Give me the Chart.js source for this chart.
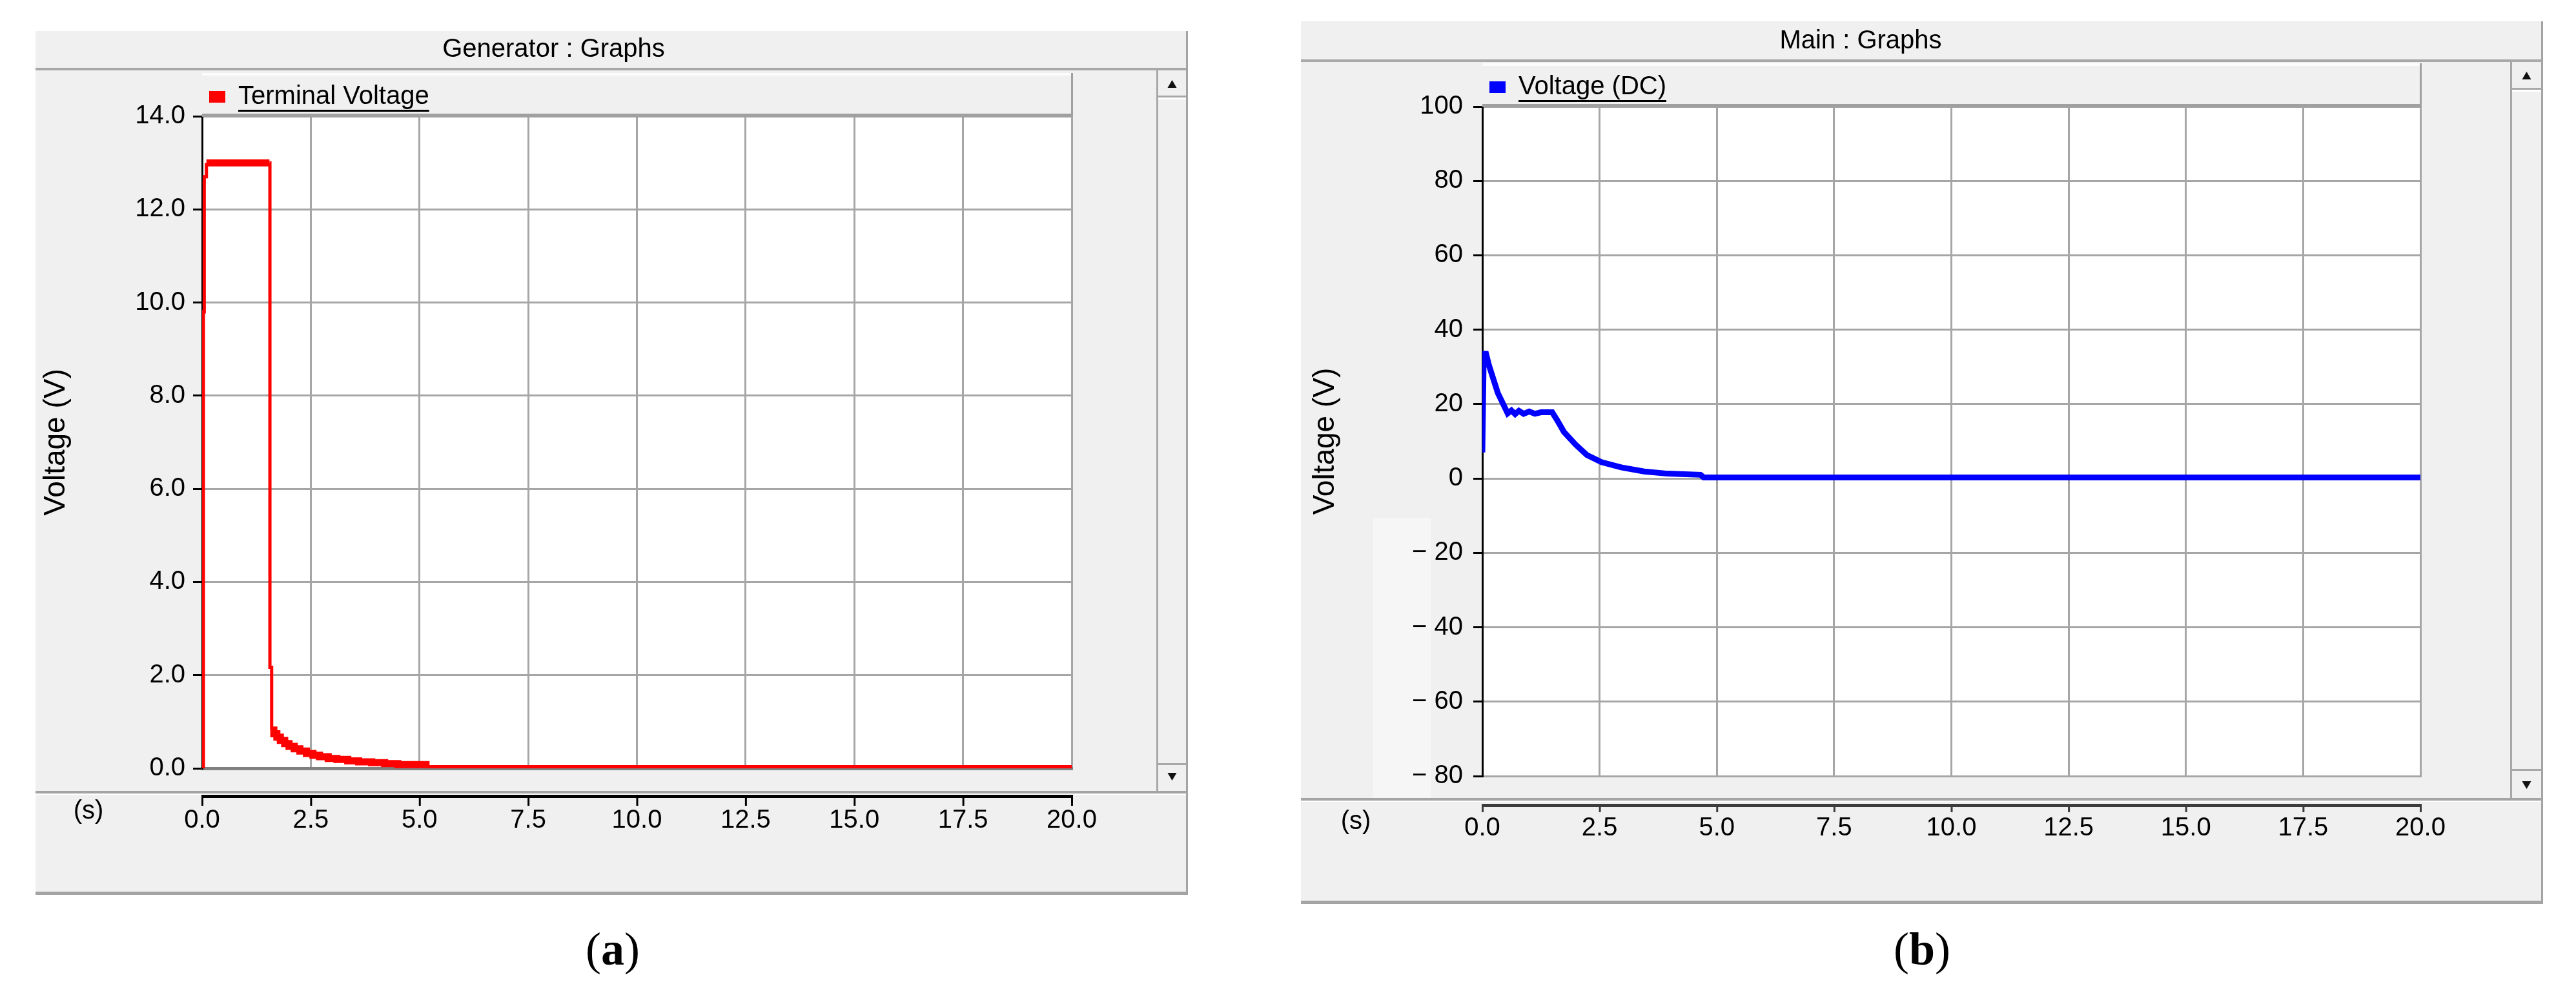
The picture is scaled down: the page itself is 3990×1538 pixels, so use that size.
<!DOCTYPE html>
<html>
<head>
<meta charset="utf-8">
<script src="https://cdn.jsdelivr.net/npm/chart.js@4.4.1/dist/chart.umd.min.js"></script>
<style>
    html, body { margin: 0; padding: 0; background: #fff; }
    body { width: 3990px; height: 1538px; position: relative; overflow: hidden; }
    .panel { position: absolute; background: #f0f0f0; }
    .panel canvas { display: block; }
    #panelA { left: 55px; top: 48px; width: 1785px; height: 1338px; }
    #panelB { left: 2015px; top: 33px; width: 1924px; height: 1367px; }
    .caption {
        position: absolute; top: 1434px; width: 300px; text-align: center;
        font: 72px/1 "Liberation Serif", "Times New Roman", serif; color: #000;
    }
    #capA { left: 799px; }
    #capB { left: 2827px; }
</style>
</head>
<body>
<div class="panel" id="panelA"><canvas id="chartA" width="1785" height="1338"></canvas></div>
<div class="panel" id="panelB"><canvas id="chartB" width="1924" height="1367"></canvas></div>
<div class="caption" id="capA">(<b>a</b>)</div>
<div class="caption" id="capB">(<b>b</b>)</div>
<script>
const FONT = '"Liberation Sans", Arial, sans-serif';

// Shared time axis (s)
const timeTicks = [0, 2.5, 5, 7.5, 10, 12.5, 15, 17.5, 20];

// (a) Generator terminal voltage
const genTime = [0, 0.03, 0.05, 0.1, 1.55, 1.56, 1.6, 1.65, 1.72, 1.8, 1.9, 2.0, 2.12, 2.25, 2.4, 2.55,
    2.7, 2.9, 3.1, 3.35, 3.6, 3.9, 4.2, 4.5, 5.15, 20];
const genVoltage = [0, 9.8, 12.7, 13.0, 13.0, 2.17, 0.82, 0.74, 0.67, 0.6, 0.53, 0.47, 0.42, 0.37, 0.32, 0.28,
    0.25, 0.21, 0.19, 0.16, 0.14, 0.12, 0.1, 0.08, 0.035, 0.035];
const genVoltageTicks = [0, 2, 4, 6, 8, 10, 12, 14];

// (b) DC voltage on the main bus
const dcTime = [0, 0.03, 0.08, 0.14, 0.33, 0.54, 0.62, 0.7, 0.78, 0.88, 1.0, 1.12, 1.25, 1.49, 1.6,
    1.74, 1.99, 2.23, 2.54, 2.96, 3.45, 3.95, 4.65, 4.72, 20];
const dcVoltage = [7, 33.5, 33.5, 30.5, 23, 17.5, 18.3, 17.3, 18.2, 17.4, 18.0, 17.4, 17.8, 17.8, 15.6,
    12.5, 9.1, 6.3, 4.4, 3.0, 1.9, 1.3, 1.0, 0.3, 0.3];
const dcVoltageTicks = [-80, -60, -40, -20, 0, 20, 40, 60, 80, 100];

// The exported trace in (a) is a noisy band in two stretches, drawn thicker there.
const genBands = [
    { from: 0.1, to: 1.55, width: 11 },
    { from: 1.6, to: 5.15, width: 11 },
];

Chart.defaults.font.family = FONT;
Chart.defaults.color = "#000";

function points(xs, ys) {
    return xs.map((x, i) => ({ x, y: ys[i] }));
}

function useTicks(values) {
    return (scale) => { scale.ticks = values.map((value) => ({ value })); };
}

function arrow(ctx, cx, cy, dir) {
    ctx.beginPath();
    ctx.moveTo(cx - 7, cy + 6 * dir);
    ctx.lineTo(cx + 7, cy + 6 * dir);
    ctx.lineTo(cx, cy - 6 * dir);
    ctx.closePath();
    ctx.fill();
}

// Window chrome of the simulator graph panel: title strip, legend strip,
// time ruler under the plot and the scroll bar on the right.
function panelChrome(o) {
    return {
        id: "panelChrome",
        beforeDraw(chart) {
            const { ctx, chartArea: a, width } = chart;
            ctx.save();
            if (o.patch) {
                ctx.fillStyle = "#f6f6f6";
                ctx.fillRect(o.patch[0], o.patch[1], o.patch[2], o.patch[3]);
            }
            ctx.fillStyle = "#a8a8a8";
            ctx.fillRect(0, o.titleLine, width, 4);
            ctx.fillStyle = "#fcfcfc";
            ctx.fillRect(a.left, o.legendTop, a.right - a.left, 4);
            ctx.fillStyle = "#fff";
            ctx.fillRect(a.left, a.top, a.right - a.left, a.bottom - a.top);
            ctx.fillStyle = "#a0a0a0";
            ctx.fillRect(a.right - 1, o.legendTop, 3, a.top - o.legendTop);
            ctx.restore();
        },
        afterDraw(chart) {
            const { ctx, chartArea: a, width, height } = chart;
            const x = chart.scales.x;
            ctx.save();

            ctx.fillStyle = "#a0a0a0";
            ctx.fillRect(a.left, a.top - 4, a.right - a.left + 2, 5);

            const sepY = a.bottom + o.sepGap;
            ctx.fillStyle = "#a4a4a4";
            ctx.fillRect(0, sepY, width, 4);
            ctx.fillStyle = "#fff";
            ctx.fillRect(0, sepY + 4, width, 2);

            const rulerY = a.bottom + o.rulerGap;
            const x0 = x.getPixelForValue(x.min);
            const x1 = x.getPixelForValue(x.max);
            ctx.fillStyle = o.rulerColor;
            ctx.fillRect(x0 - 1, rulerY, x1 - x0 + 3, 5);
            x.ticks.forEach((t) => {
                const px = x.getPixelForValue(t.value);
                ctx.fillRect(px - 1, rulerY, 3, o.tickLen);
            });

            ctx.fillStyle = "#000";
            ctx.font = `40px ${FONT}`;
            ctx.textAlign = "center";
            ctx.textBaseline = "middle";
            ctx.fillText("(s)", o.unitX, o.unitY);

            // scroll bar
            const sx = o.scrollX;
            ctx.fillStyle = "#a8a8a8";
            ctx.fillRect(sx, o.titleLine + 4, 3, sepY - o.titleLine - 4);
            ctx.fillRect(sx + 3, o.upBottom, width - sx - 6, 3);
            ctx.fillRect(sx + 3, o.downTop, width - sx - 6, 3);
            ctx.fillStyle = "#fff";
            ctx.fillRect(sx + 3, o.upBottom + 3, width - sx - 6, 3);
            ctx.fillStyle = "#111";
            const cx = (sx + width) / 2;
            arrow(ctx, cx, o.upY, 1);
            arrow(ctx, cx, o.downY, -1);

            // underline the legend entries
            const legend = chart.legend;
            const lab = chart.options.plugins.legend.labels;
            ctx.fillStyle = "#000";
            legend.legendHitBoxes.forEach((hb) => {
                const tx = hb.left + lab.boxWidth + lab.font.size / 2;
                ctx.fillRect(tx, hb.top + hb.height / 2 + 20, hb.left + hb.width - tx, 3);
            });

            ctx.fillStyle = "#a4a4a4";
            ctx.fillRect(width - 3, 0, 3, height);
            ctx.fillRect(0, height - 5, width, 5);
            ctx.restore();
        },
    };
}

function makeChart(canvasId, cfg) {
    return new Chart(document.getElementById(canvasId), {
        type: "line",
        data: {
            datasets: [{
                label: cfg.label,
                data: points(cfg.time, cfg.values),
                borderColor: cfg.color,
                backgroundColor: cfg.color,
                borderWidth: cfg.lineWidth,
                pointRadius: 0,
                fill: false,
                stepped: cfg.stepped,
                segment: cfg.segment,
            }],
        },
        options: {
            responsive: false,
            animation: false,
            devicePixelRatio: 1,
            layout: { padding: { left: 0, right: cfg.rightPad, top: 0, bottom: 0 } },
            plugins: {
                title: {
                    display: true,
                    text: cfg.title,
                    color: "#000",
                    font: { size: 40, weight: "normal" },
                    padding: cfg.titlePad,
                },
                legend: {
                    display: true,
                    position: "top",
                    align: "start",
                    fullSize: false,
                    labels: {
                        boxWidth: 25,
                        boxHeight: 18,
                        padding: 11,
                        color: "#000",
                        font: { size: 40 },
                        generateLabels: () => [{
                            text: cfg.label, fillStyle: cfg.color, strokeStyle: cfg.color,
                            lineWidth: 0, datasetIndex: 0,
                        }],
                    },
                },
                tooltip: { enabled: false },
            },
            scales: {
                x: {
                    type: "linear",
                    min: 0,
                    max: 20,
                    afterBuildTicks: useTicks(timeTicks),
                    afterFit: (s) => { s.height = cfg.xAxisHeight; },
                    ticks: {
                        padding: 57,
                        autoSkip: false,
                        maxRotation: 0,
                        color: "#000",
                        font: { size: 40 },
                        callback: (v) => v.toFixed(1),
                    },
                    grid: { color: "#a6a6a6", lineWidth: 3, drawTicks: false },
                    border: { color: cfg.bottomBorder, width: cfg.bottomBorderWidth },
                },
                y: {
                    min: cfg.yTicks[0],
                    max: cfg.yTicks[cfg.yTicks.length - 1],
                    afterBuildTicks: useTicks(cfg.yTicks),
                    afterFit: (s) => { s.width = cfg.yAxisWidth; },
                    ticks: {
                        padding: cfg.yTickPad,
                        color: "#000",
                        font: { size: 40 },
                        callback: cfg.yFormat,
                    },
                    grid: { color: "#a6a6a6", lineWidth: 3, tickColor: "#000", tickLength: 14, tickWidth: 3 },
                    border: { color: "#000", width: 3 },
                    title: {
                        display: true,
                        text: "Voltage (V)",
                        color: "#000",
                        font: { size: 46 },
                        padding: { top: cfg.yTitlePad, bottom: 0 },
                    },
                },
            },
        },
        plugins: [panelChrome(cfg.chrome)],
    });
}

makeChart("chartA", {
    title: "Generator : Graphs",
    label: "Terminal Voltage",
    color: "#ff0000",
    lineWidth: 5,
    stepped: true,
    segment: {
        borderWidth: (c) => {
            const band = genBands.find((b) => c.p0.parsed.x >= b.from && c.p1.parsed.x <= b.to);
            return band ? band.width : undefined;
        },
    },
    time: genTime,
    values: genVoltage,
    yTicks: genVoltageTicks,
    yFormat: (v) => v.toFixed(1),
    rightPad: 180,
    xAxisHeight: 196,
    yAxisWidth: 258,
    yTickPad: 12,
    yTitlePad: 5,
    titlePad: { top: 5, bottom: 18 },
    bottomBorder: "#808080",
    bottomBorderWidth: 5,
    chrome: {
        titleLine: 57, legendTop: 65,
        sepGap: 35, rulerGap: 41, tickLen: 17, rulerColor: "#000",
        unitX: 82, unitY: 1209,
        scrollX: 1736, upBottom: 100, downTop: 1134, upY: 82, downY: 1155,
    },
});

makeChart("chartB", {
    title: "Main : Graphs",
    label: "Voltage (DC)",
    color: "#0000ff",
    lineWidth: 9,
    stepped: false,
    segment: undefined,
    time: dcTime,
    values: dcVoltage,
    yTicks: dcVoltageTicks,
    yFormat: (v) => (v < 0 ? "\u2212 " + Math.abs(v) : String(v)),
    rightPad: 190,
    xAxisHeight: 198,
    yAxisWidth: 281,
    yTickPad: 16,
    yTitlePad: 11,
    titlePad: { top: 7, bottom: 16 },
    bottomBorder: "#a6a6a6",
    bottomBorderWidth: 3,
    chrome: {
        titleLine: 59, legendTop: 65,
        sepGap: 34, rulerGap: 43, tickLen: 13, rulerColor: "#3c3c3c",
        unitX: 85, unitY: 1240,
        scrollX: 1873, upBottom: 103, downTop: 1158, upY: 84, downY: 1183,
        patch: [112, 769, 89, 436],
    },
});
</script>
</body>
</html>
